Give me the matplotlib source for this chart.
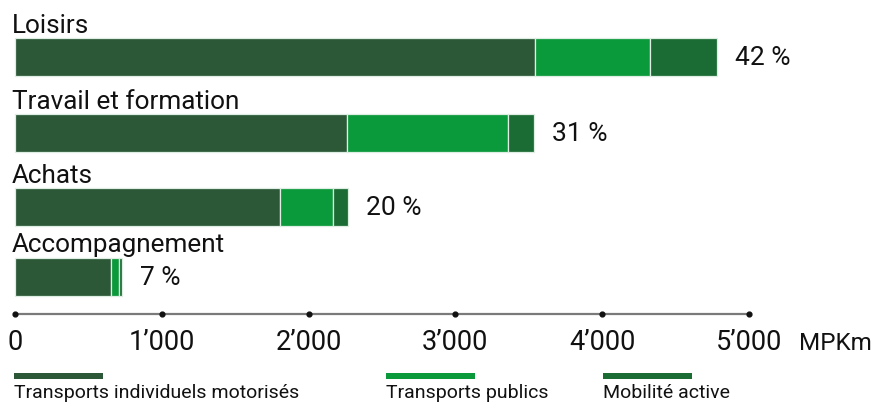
import matplotlib
matplotlib.use("Agg")
import matplotlib.pyplot as plt
from matplotlib.patches import Rectangle

# Passenger-kilometres by trip purpose and transport mode (millions)
categories = ["Loisirs", "Travail et formation", "Achats", "Accompagnement"]
tim = [3545, 2263, 1808, 657]        # Transports individuels motorisés
tp = [778, 1098, 359, 52]            # Transports publics
ma = [461, 175, 100, 23]             # Mobilité active
shares = ["42 %", "31 %", "20 %", "7 %"]
ticks = [0, 1000, 2000, 3000, 4000, 5000]
tick_labels = ["0", "1\u2019000", "2\u2019000", "3\u2019000", "4\u2019000", "5\u2019000"]
unit = "MPKm"
series_names = ["Transports individuels motorisés", "Transports publics", "Mobilité active"]

colors = ["#2C5838", "#0B9A3B", "#1B6B34"]
FONT = "Roboto"

W, H = 875, 405
fig = plt.figure(figsize=(W / 100, H / 100), dpi=100)
ax = fig.add_axes([0, 0, 1, 1])
ax.set_axis_off()

# x in MPKm: 0 -> 15 px, 5000 -> 749 px ; y in pixels from top
X0 = 15
ppu = (749 - X0) / 5000
ax.set_xlim(-X0 / ppu, (W - X0) / ppu)
ax.set_ylim(H, 0)

def px(x):
    return (x - X0) / ppu

centers = [57, 133, 207, 277]
bar_h = 38
label_y = [33, 109, 183, 252]

left = [0] * len(categories)
for vals, c in zip([tim, tp, ma], colors):
    ax.barh(centers, vals, left=left, height=bar_h, color=c,
            edgecolor="#dfeee2", linewidth=0.9)
    left = [l + v for l, v in zip(left, vals)]

for cat, ly, cy, tot, s in zip(categories, label_y, centers, left, shares):
    ax.text(px(12), ly, cat, fontsize=18.8, family=FONT, va="baseline", ha="left", color="#111111")
    ax.text(tot + 18 / ppu, cy + 1, s, fontsize=19, family=FONT, va="center", ha="left", color="#111111")

# axis line with dot markers
axis_y = 314
ax.plot([ticks[0], ticks[-1]], [axis_y, axis_y], color="#7a7a7a", lw=1.6, solid_capstyle="butt", zorder=1)
ax.scatter(ticks, [axis_y] * len(ticks), s=12, color="#111111", zorder=2)
for t, lab in zip(ticks, tick_labels):
    ax.text(t, 343, lab, fontsize=19.5, family=FONT, ha="center", va="center", color="#111111")
ax.text(px(799), 343, unit, fontsize=17.5, family=FONT, ha="left", va="center", color="#111111")

# legend swatches and labels (pixel positions)
leg_x = [14, 386, 603]
for lx, c, name in zip(leg_x, colors, series_names):
    ax.add_patch(Rectangle((px(lx), 373), 89 / ppu, 6, color=c, lw=0))
    ax.text(px(lx), 402, name, fontsize=14, family=FONT, ha="left", va="bottom", color="#111111")

fig.savefig("out.png", dpi=100)
